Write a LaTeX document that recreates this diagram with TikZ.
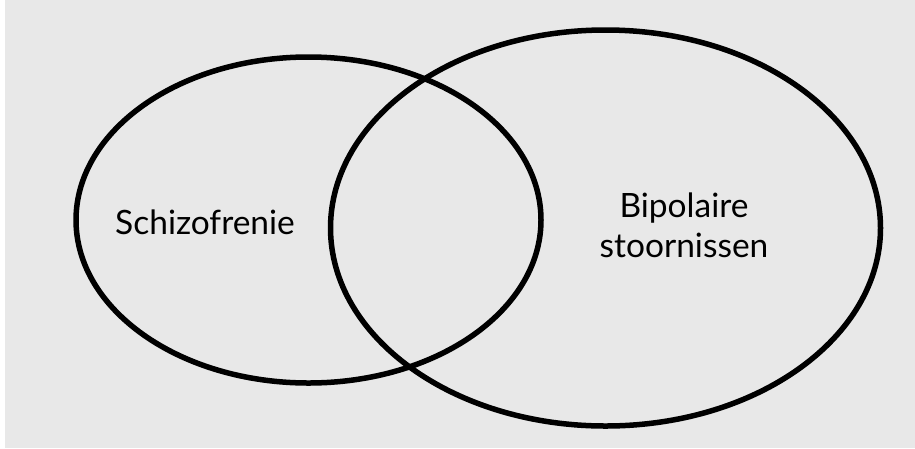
\documentclass[tikz,border=0pt]{standalone}
\usepackage{fontspec}
\setmainfont{Lato}
\usetikzlibrary{shapes.geometric}
\definecolor{panelgray}{HTML}{E8E8E8}
\tikzset{
  setring/.style={draw,ellipse,line width=5.5pt,inner sep=0pt},
  setlabel/.style={font=\fontsize{33.5}{40}\selectfont,align=center,inner sep=0pt}
}
\begin{document}
\begin{tikzpicture}[x=1pt,y=-1pt]
          % Panel
          \useasboundingbox (0,0) rectangle (915,448);
          \fill[panelgray] (5,0) rectangle (915,448);

          % Sets
          \node[setring,minimum width=465pt,minimum height=326pt] (schizoset) at (308.5,220) {};
          \node[setring,minimum width=550pt,minimum height=396pt] (bipolarset) at (605.5,228) {};

          % Labels
          \node[setlabel] (schizo) at (205,222) {Schizofrenie};
          \node[setlabel] (bipolar) at (684,225) {Bipolaire\\stoornissen};

        \end{tikzpicture}
\end{document}
